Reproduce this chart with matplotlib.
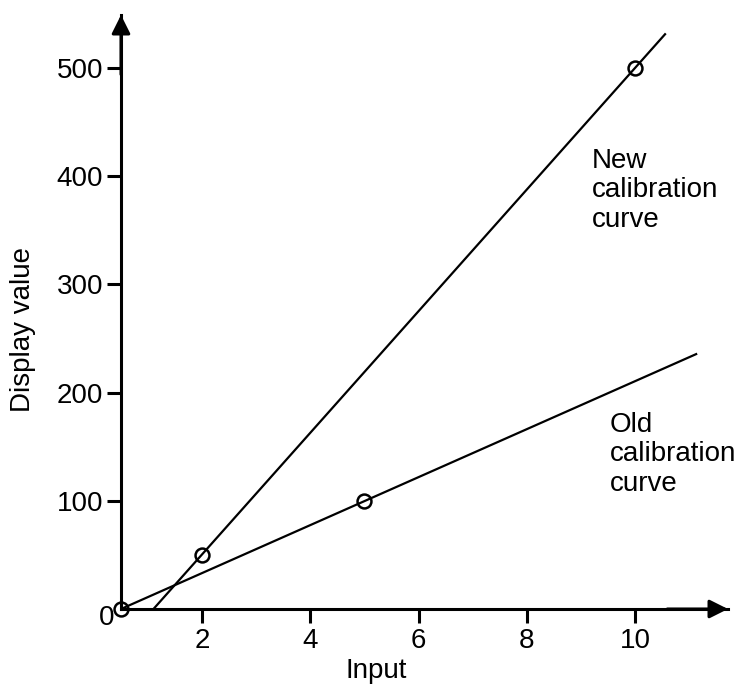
import matplotlib
matplotlib.use("Agg")
import matplotlib.pyplot as plt

plt.rcParams['font.family'] = ['Liberation Sans', 'DejaVu Sans']

# readings
old_line_x = [0.5, 11.15]
old_line_y = [0, 236]
new_line_x = [1.1, 10.57]
new_line_y = [0, 532]
old_pts_x = [0.5, 5]
old_pts_y = [0, 100]
new_pts_x = [2, 10]
new_pts_y = [50, 500]
x_ticks = [2, 4, 6, 8, 10]
y_ticks = [100, 200, 300, 400, 500]

W, H = 741, 686
FS = 20
LW_AX = 2.2
LW = 1.6


def px(x, y):
    # pixel position (from top-left) to figure fraction
    return x / W, 1 - y / H


def main():
    fig = plt.figure(figsize=(W / 100, H / 100), dpi=100)
    ax = fig.add_axes([121 / W, 1 - 609 / H, (728 - 121) / W, (609 - 15) / H])

    ax.plot(old_line_x, old_line_y, color='black', lw=LW, solid_capstyle='butt')
    ax.plot(new_line_x, new_line_y, color='black', lw=LW, solid_capstyle='butt')
    ax.plot(old_pts_x, old_pts_y, 'o', mfc='none', mec='black', ms=10, mew=1.8, clip_on=False)
    ax.plot(new_pts_x, new_pts_y, 'o', mfc='none', mec='black', ms=10, mew=1.8, clip_on=False)

    ax.set_xlim(0.5, 11.72)
    ax.set_ylim(0, 549)
    ax.set_xticks(x_ticks)
    ax.set_yticks(y_ticks)
    ax.tick_params(labelsize=FS, width=LW_AX, length=10, direction='out')
    ax.tick_params(axis='x', pad=4)
    ax.tick_params(axis='y', pad=3)

    for s in ['top', 'right']:
        ax.spines[s].set_visible(False)
    for s in ['left', 'bottom']:
        ax.spines[s].set_linewidth(LW_AX)

    # arrow heads at the axis ends
    arrow = dict(arrowstyle='-|>', color='black', lw=LW_AX, mutation_scale=28, shrinkA=0, shrinkB=0)
    ax.annotate('', xy=(0, 1), xytext=(0, 0.9), xycoords='axes fraction', arrowprops=arrow)
    ax.annotate('', xy=(1, 0), xytext=(0.9, 0), xycoords='axes fraction', arrowprops=arrow)

    ax.annotate('0', xy=(0, 0), xycoords='axes fraction', xytext=(-14, -9),
                textcoords='offset pixels', ha='center', va='center', fontsize=FS)

    fig.text(*px(376, 671), 'Input', fontsize=FS, ha='center', va='center')
    fig.text(*px(23, 330), 'Display value', fontsize=FS, ha='center', va='center',
             rotation=90)

    # baseline here is the one of the last line
    fig.text(*px(592, 227), 'New\ncalibration\ncurve', fontsize=FS, ha='left',
             va='baseline', linespacing=1.18)
    fig.text(*px(610, 491), 'Old\ncalibration\ncurve', fontsize=FS, ha='left',
             va='baseline', linespacing=1.18)

    fig.savefig('out.png', dpi=100)


if __name__ == "__main__":
    main()
